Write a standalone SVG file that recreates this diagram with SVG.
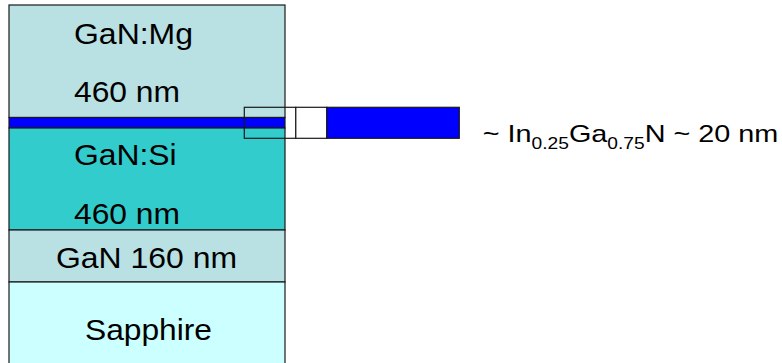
<svg xmlns="http://www.w3.org/2000/svg" width="782" height="363" viewBox="0 0 782 363">
<style>
.layer{stroke:#1a1a1a;stroke-width:1.2}
.t{font-family:"Liberation Sans",Arial,sans-serif;font-size:30px;fill:#000}
.r{font-family:"Liberation Sans",Arial,sans-serif;font-size:24px;fill:#000}
</style>
<rect width="782" height="363" fill="#fff"/>
<g id="gan-mg">
<rect class="layer" x="9" y="5" width="276" height="112.5" fill="#B9E0E3"/>
<text class="t" x="74" y="44" textLength="119" lengthAdjust="spacingAndGlyphs">GaN:Mg</text>
<text class="t" x="74" y="101.5" textLength="106" lengthAdjust="spacingAndGlyphs">460 nm</text>
</g>
<g id="ingan-layer">
<rect class="layer" x="9" y="117.5" width="276" height="10.5" fill="#0000FF"/>
</g>
<g id="gan-si">
<rect class="layer" x="9" y="128" width="276" height="102" fill="#33CCCC"/>
<text class="t" x="74" y="165" textLength="102.7" lengthAdjust="spacingAndGlyphs">GaN:Si</text>
<text class="t" x="74" y="224.3" textLength="106" lengthAdjust="spacingAndGlyphs">460 nm</text>
</g>
<g id="gan">
<rect class="layer" x="9" y="230" width="276" height="52" fill="#B9E0E3"/>
<text class="t" x="56" y="267.7" textLength="181" lengthAdjust="spacingAndGlyphs">GaN 160 nm</text>
</g>
<g id="sapphire">
<rect class="layer" x="9" y="282" width="276" height="90" fill="#CCFFFF"/>
<text class="t" x="85" y="340" textLength="127" lengthAdjust="spacingAndGlyphs">Sapphire</text>
</g>
<g id="zoom-inset">
<rect x="244.3" y="107.3" width="51.5" height="31" fill="none" stroke="#1a1a1a" stroke-width="1.2"/>
<rect x="295.8" y="107.3" width="31" height="31" fill="#fff" stroke="#1a1a1a" stroke-width="1.2"/>
<rect x="326.8" y="107.3" width="132.5" height="31" fill="#0000FF" stroke="#1a1a1a" stroke-width="1.2"/>
</g>
<g id="label">
<text class="r" transform="translate(482.7,142.3) scale(1.2,1)">~ In<tspan font-size="16" dy="7">0.25</tspan><tspan dy="-7">Ga</tspan><tspan font-size="16" dy="7">0.75</tspan><tspan dy="-7">N ~ 20 nm</tspan></text>
</g>
</svg>
